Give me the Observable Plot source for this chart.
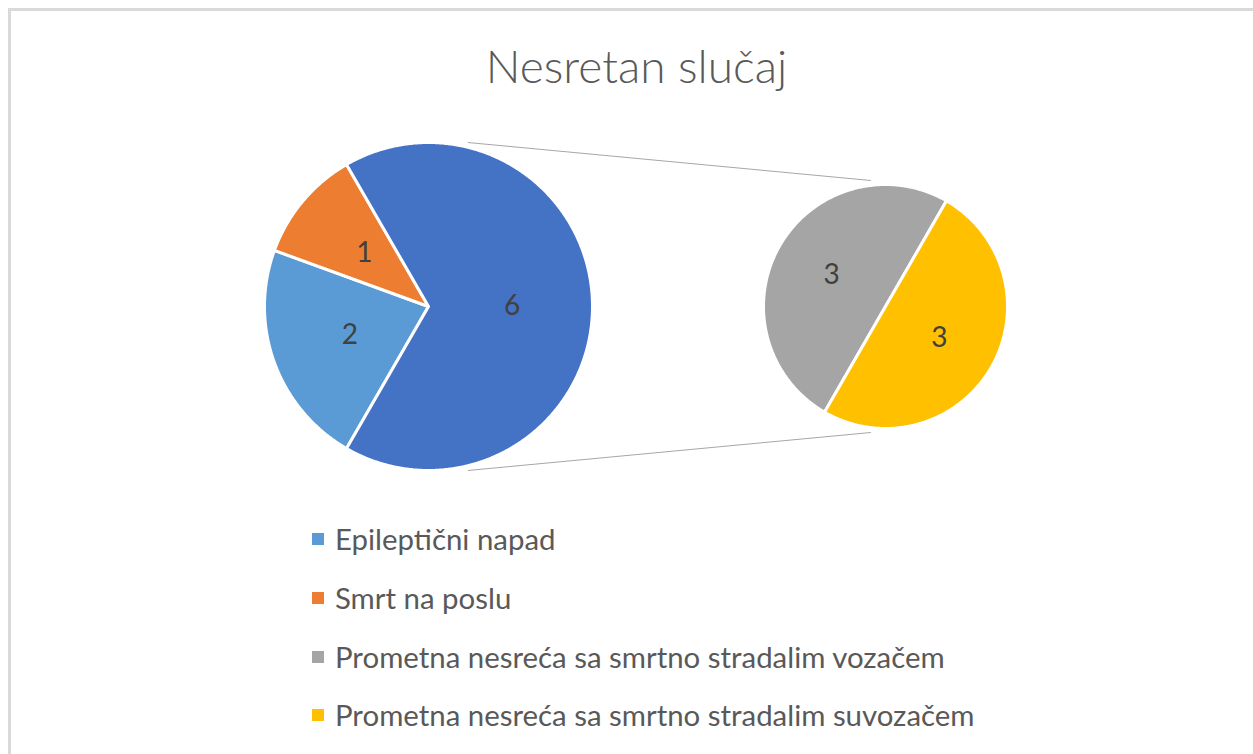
<!DOCTYPE html>
<html><head><meta charset="utf-8">
<script src="https://cdn.jsdelivr.net/npm/d3@7"></script>
<script src="https://cdn.jsdelivr.net/npm/@observablehq/plot@0.6"></script>
<style>
html,body{margin:0;padding:0;background:#fff;width:1253px;height:754px;overflow:hidden;font-family:Lato,"Open Sans",sans-serif;}
#frame{position:absolute;left:8px;top:8px;width:1300px;height:800px;border-top:3px solid #d9d9d9;border-left:3px solid #d9d9d9;box-sizing:border-box;z-index:5;pointer-events:none;}
#title{position:absolute;left:0;width:1273px;top:38.5px;text-align:center;font-size:46px;line-height:54px;color:#595959;font-weight:300;}
#chart{position:absolute;left:0;top:120px;}
#legend{position:absolute;left:312px;top:525px;}
.row{display:flex;align-items:center;height:28px;margin-bottom:30.8px;font-size:29.4px;line-height:28px;color:#595959;white-space:nowrap;}
.sw{width:12px;height:12px;margin-right:11px;flex:none;}
</style>
</head><body>
<div id="frame"></div>
<div id="title">Nesretan slučaj</div>
<div id="chart"></div>
<div id="legend"></div>
<script>
// Data
const title = "Nesretan slučaj";
const mainLabels = ["Epileptični napad", "Smrt na poslu"];
const mainValues = [2, 1];
const mainColors = ["#5B9BD5", "#ED7D31"];
const secondLabels = ["Prometna nesreća sa smrtno stradalim vozačem", "Prometna nesreća sa smrtno stradalim suvozačem"];
const secondValues = [3, 3];
const secondColors = ["#A5A5A5", "#FFC000"];
const otherLabel = "Ostalo";
const otherColor = "#4472C4";

// Layout
const W = 1253, H = 380;
const cy = 186;
const main = {cx: 428, cy, r: 164};
const sec = {cx: 885, cy, r: 122};

const otherValue = d3.sum(secondValues);
const mainAll = mainLabels.map((k, i) => ({key: k, value: mainValues[i]})).concat([{key: otherLabel, value: otherValue}]);
const secAll = secondLabels.map((k, i) => ({key: k, value: secondValues[i]}));
const mainTotal = d3.sum(mainAll, d => d.value);
const start = Math.PI / 2 + (otherValue / mainTotal) * Math.PI;

const mainArcs = d3.pie().sort(null).value(d => d.value).startAngle(start).endAngle(start + 2 * Math.PI)(mainAll);
const secArcs = d3.pie().sort(null).value(d => d.value).startAngle(start).endAngle(start + 2 * Math.PI)(secAll);

function slicePoints(arcs, g) {
  const pts = [];
  for (const a of arcs) {
    pts.push({key: a.data.key, x: g.cx, y: g.cy});
    const n = Math.max(2, Math.ceil((a.endAngle - a.startAngle) / (Math.PI / 360)));
    for (let i = 0; i <= n; i++) {
      const t = a.startAngle + (a.endAngle - a.startAngle) * i / n;
      pts.push({key: a.data.key, x: g.cx + g.r * Math.sin(t), y: g.cy - g.r * Math.cos(t)});
    }
    pts.push({key: a.data.key, x: g.cx, y: g.cy});
  }
  return pts;
}
function labelPoints(arcs, g) {
  return arcs.map(a => {
    const m = (a.startAngle + a.endAngle) / 2;
    return {label: String(a.data.value), x: g.cx + 0.51 * g.r * Math.sin(m), y: g.cy - 0.51 * g.r * Math.cos(m)};
  });
}
const polys = slicePoints(mainArcs, main).concat(slicePoints(secArcs, sec));
const labels = labelPoints(mainArcs, main).concat(labelPoints(secArcs, sec));
const connectors = [
  {x1: main.cx + 0.24 * main.r, y1: main.cy - main.r, x2: sec.cx - 0.12 * sec.r, y2: sec.cy - sec.r - 4},
  {x1: main.cx + 0.24 * main.r, y1: main.cy + main.r, x2: sec.cx - 0.12 * sec.r, y2: sec.cy + sec.r + 4}
];

const chart = Plot.plot({
  width: W, height: H, margin: 0,
  style: {background: "white", fontFamily: "Lato, 'Open Sans', sans-serif"},
  x: {domain: [0, W], range: [0, W], axis: null},
  y: {domain: [0, H], range: [0, H], axis: null},
  color: {domain: mainLabels.concat([otherLabel], secondLabels), range: mainColors.concat([otherColor], secondColors)},
  marks: [
    Plot.link(connectors, {x1: "x1", y1: "y1", x2: "x2", y2: "y2", stroke: "#a6a6a6", strokeWidth: 1}),
    Plot.line(polys, {x: "x", y: "y", z: "key", fill: "key", stroke: "white", strokeWidth: 3, strokeLinejoin: "round"}),
    Plot.text(labels, {x: "x", y: "y", text: "label", fill: "#404040", fontSize: 28})
  ]
});
document.getElementById("chart").appendChild(chart);

// Legend
const legendItems = mainLabels.map((k, i) => ({k, c: mainColors[i]})).concat(secondLabels.map((k, i) => ({k, c: secondColors[i]})));
const lg = document.getElementById("legend");
for (const it of legendItems) {
  const row = document.createElement("div");
  row.className = "row";
  const sw = document.createElement("span");
  sw.className = "sw";
  sw.style.background = it.c;
  const tx = document.createElement("span");
  tx.textContent = it.k;
  row.appendChild(sw); row.appendChild(tx);
  lg.appendChild(row);
}
</script>
</body></html>
